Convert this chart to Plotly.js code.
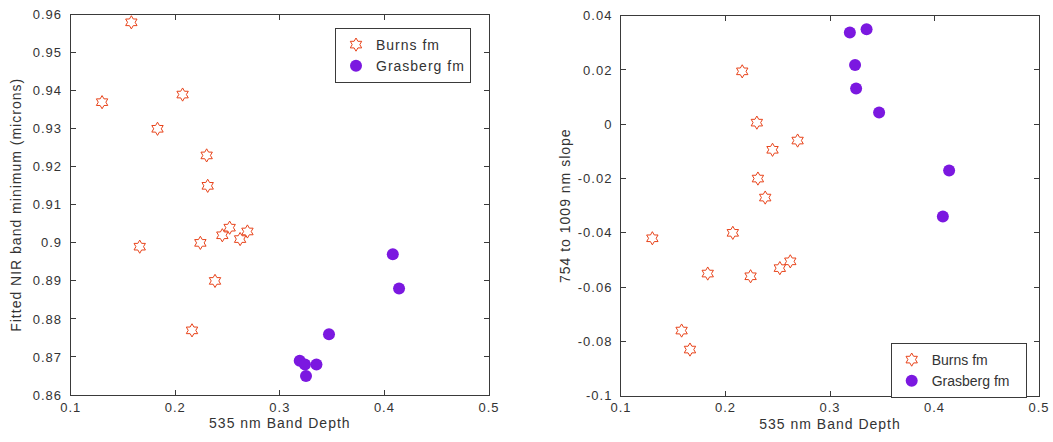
<!DOCTYPE html>
<html>
<head>
<meta charset="utf-8">
<script src="https://cdn.plot.ly/plotly-3.0.1.min.js"></script>
<style>
html,body{margin:0;padding:0;background:#fff;}
#chart{width:1053px;height:442px;}
.xtick text, .x2tick text, .ytick text, .y2tick text { letter-spacing: 1px; }
.g-xtitle text, .g-x2title text, .g-ytitle text, .g-y2title text { letter-spacing: 1px; }
.legendtext { letter-spacing: 1px; }
</style>
</head>
<body>
<div id="chart"></div>
<script>
// Burns formation samples
const burnsBandDepth = [0.158, 0.130, 0.207, 0.183, 0.230, 0.231, 0.166, 0.224, 0.245, 0.252, 0.262, 0.269, 0.238, 0.216];
const burnsNIRMin    = [0.958, 0.937, 0.939, 0.930, 0.923, 0.915, 0.899, 0.900, 0.902, 0.904, 0.901, 0.903, 0.890, 0.877];
const burnsSlope     = [-0.076, -0.042, -0.040, -0.055, 0.0006, -0.020, -0.083, -0.056, -0.0094, -0.053, -0.0505, -0.006, -0.027, 0.0195];
// Grasberg formation samples
const grasBandDepth = [0.408, 0.414, 0.347, 0.319, 0.324, 0.335, 0.325];
const grasNIRMin    = [0.897, 0.888, 0.876, 0.869, 0.868, 0.868, 0.865];
const grasSlope     = [-0.034, -0.017, 0.0043, 0.0338, 0.0218, 0.035, 0.0132];

// tick labels
const xTickVals = [0.1, 0.2, 0.3, 0.4, 0.5];
const xTickText = ['0.1', '0.2', '0.3', '0.4', '0.5'];
const y1TickVals = [0.86, 0.87, 0.88, 0.89, 0.90, 0.91, 0.92, 0.93, 0.94, 0.95, 0.96];
const y1TickText = ['0.86', '0.87', '0.88', '0.89', '0.9', '0.91', '0.92', '0.93', '0.94', '0.95', '0.96'];
const y2TickVals = [-0.1, -0.08, -0.06, -0.04, -0.02, 0, 0.02, 0.04];
const y2TickText = ['-0.1', '-0.08', '-0.06', '-0.04', '-0.02', '0', '0.02', '0.04'];

const burnsColor = '#e8431a';
const grasColor = '#7b18e0';
const textColor = '#333333';
const lineColor = '#3a3a3a';
const fontFamily = 'Liberation Sans, Arial, sans-serif';

const starMarker = {symbol: 'hexagram-open', size: 10, color: burnsColor, line: {color: burnsColor, width: 1}};
const dotMarker = {symbol: 'circle', size: 12, color: grasColor, line: {width: 0}};

const traces = [
  {x: burnsBandDepth, y: burnsNIRMin, type: 'scatter', mode: 'markers', name: 'Burns fm', marker: starMarker, xaxis: 'x', yaxis: 'y', legend: 'legend'},
  {x: grasBandDepth, y: grasNIRMin, type: 'scatter', mode: 'markers', name: 'Grasberg fm', marker: dotMarker, xaxis: 'x', yaxis: 'y', legend: 'legend'},
  {x: burnsBandDepth, y: burnsSlope, type: 'scatter', mode: 'markers', name: 'Burns fm', marker: starMarker, xaxis: 'x2', yaxis: 'y2', legend: 'legend2'},
  {x: grasBandDepth, y: grasSlope, type: 'scatter', mode: 'markers', name: 'Grasberg fm', marker: dotMarker, xaxis: 'x2', yaxis: 'y2', legend: 'legend2'}
];

const W = 1053, H = 442;
const titleFont = {family: fontFamily, size: 14, color: textColor};
function axisCommon() {
  return {
    showline: true, linecolor: lineColor, linewidth: 1, mirror: 'ticks',
    ticks: 'inside', ticklen: 5, tickcolor: lineColor, tickwidth: 1,
    showgrid: false, zeroline: false, automargin: false,
    tickfont: {family: fontFamily, size: 13, color: textColor},
    tickmode: 'array'
  };
}

const layout = {
  width: W, height: H,
  margin: {l: 0, r: 0, t: 0, b: 0},
  paper_bgcolor: '#ffffff', plot_bgcolor: '#ffffff',
  font: {family: fontFamily, color: textColor},
  showlegend: true,
  xaxis: Object.assign(axisCommon(), {
    domain: [70.7 / W, 489 / W], range: [0.1, 0.5], anchor: 'y',
    tickvals: xTickVals, ticktext: xTickText,
    title: {text: '535 nm Band Depth', font: titleFont, standoff: 4}
  }),
  yaxis: Object.assign(axisCommon(), {
    domain: [(H - 395) / H, (H - 14.7) / H], range: [0.86, 0.96], anchor: 'x',
    tickvals: y1TickVals, ticktext: y1TickText, ticklabelstandoff: 5,
    title: {text: 'Fitted NIR band minimum (microns)', font: titleFont, standoff: 7}
  }),
  xaxis2: Object.assign(axisCommon(), {
    domain: [621 / W, 1039 / W], range: [0.1, 0.5], anchor: 'y2',
    tickvals: xTickVals, ticktext: xTickText,
    title: {text: '535 nm Band Depth', font: titleFont, standoff: 4}
  }),
  yaxis2: Object.assign(axisCommon(), {
    domain: [(H - 395.7) / H, (H - 15.7) / H], range: [-0.1, 0.04], anchor: 'x2',
    tickvals: y2TickVals, ticktext: y2TickText, ticklabelstandoff: 5,
    title: {text: '754 to 1009 nm slope', font: titleFont, standoff: 3}
  }),
  legend: {
    x: 335 / W, y: (H - 28) / H, xanchor: 'left', yanchor: 'top',
    bgcolor: '#ffffff', bordercolor: lineColor, borderwidth: 1,
    font: {family: fontFamily, size: 14, color: textColor}
  },
  legend2: {
    x: 890.7 / W, y: (H - 343) / H, xanchor: 'left', yanchor: 'top',
    bgcolor: '#ffffff', bordercolor: lineColor, borderwidth: 1,
    font: {family: fontFamily, size: 14, color: textColor}
  }
};

Plotly.newPlot('chart', traces, layout, {displayModeBar: false, staticPlot: true});
</script>
</body>
</html>
